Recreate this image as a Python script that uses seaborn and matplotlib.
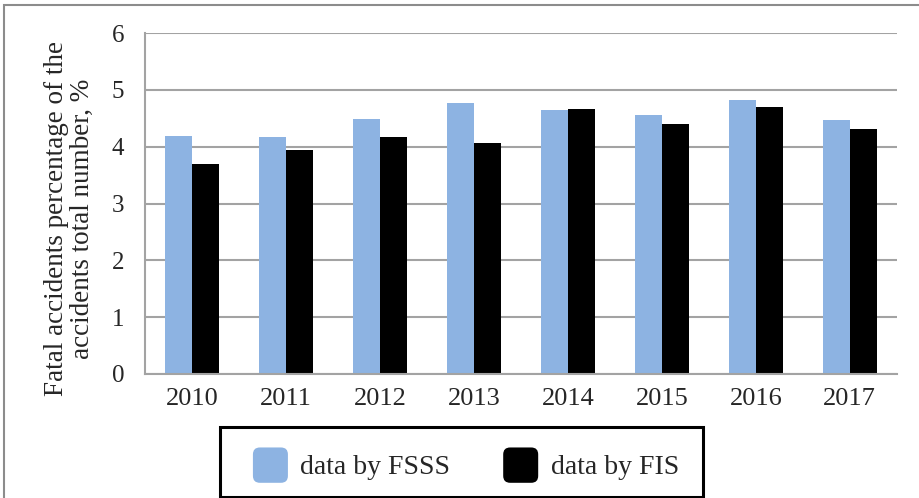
import pandas as pd
import numpy as np
import matplotlib.pyplot as plt
import seaborn as sns
from matplotlib.patches import Rectangle, FancyBboxPatch
from matplotlib.legend_handler import HandlerPatch

years = ["2010", "2011", "2012", "2013", "2014", "2015", "2016", "2017"]
fsss = [4.19, 4.17, 4.49, 4.76, 4.65, 4.56, 4.83, 4.47]
fis = [3.69, 3.94, 4.17, 4.06, 4.66, 4.40, 4.70, 4.31]
series = ["data by FSSS", "data by FIS"]
colors = ["#8db3e2", "#000000"]

df = pd.DataFrame({
    "year": years * 2,
    "value": fsss + fis,
    "source": [series[0]] * len(years) + [series[1]] * len(years),
})

sns.set_style("white")
plt.rcParams["font.family"] = ["Liberation Serif", "DejaVu Serif"]

GRID = "#a3a3a3"

fig = plt.figure(figsize=(9.19, 4.98), dpi=100)
ax = fig.add_axes([0.1578, 0.249, 0.818, 0.6847])

sns.barplot(data=df, x="year", y="value", hue="source", palette=colors,
            width=0.58, saturation=1, ax=ax, legend=False)
for p in ax.patches:
    p.set_linewidth(0)

ax.set_ylim(0, 6)
ax.set_xlim(-0.5, len(years) - 0.5)
ax.set_yticks(range(0, 7))
ax.yaxis.grid(True, color=GRID, linewidth=1.5)
ax.set_axisbelow(True)
for s in ["top", "right"]:
    ax.spines[s].set_visible(False)
for s in ["left", "bottom"]:
    ax.spines[s].set_color(GRID)
    ax.spines[s].set_linewidth(1.5)

# category boundary ticks below the axis, labels centred on the groups
ax.set_xticks(np.arange(-0.5, len(years), 1.0), minor=False)
ax.set_xticklabels([])
ax.set_xticks(range(len(years)), minor=True)
ax.set_xticklabels(years, minor=True)
ax.tick_params(axis="x", which="major", direction="out", length=7,
               color=GRID, width=1.5)
ax.tick_params(axis="x", which="minor", length=0, labelsize=19, pad=10)
ax.tick_params(axis="y", direction="out", length=7, color=GRID,
               width=1.5, labelsize=18, pad=8)
ax.set_xlabel("")
ax.set_ylabel("Fatal accidents percentage of the\naccidents total number, %",
              fontsize=19.5, linespacing=1.05, va="center")
ax.yaxis.set_label_coords(-0.101, 0.455)

# legend: frameless entries inside a hand-drawn box
def rounded(legend, orig_handle, xdescent, ydescent, width, height, fontsize):
    return FancyBboxPatch((-xdescent, -ydescent), width, height,
                          boxstyle="round,pad=0,rounding_size=5")

handles = [Rectangle((0, 0), 1, 1, facecolor=c, edgecolor="none") for c in colors]
leg = fig.legend(handles, series, loc="center",
                 bbox_to_anchor=(0.507, 0.066), ncol=2, frameon=False,
                 fontsize=20, handlelength=1.26, handleheight=1.58,
                 handletextpad=0.45, columnspacing=1.9, borderpad=0,
                 handler_map={Rectangle: HandlerPatch(patch_func=rounded)})

fig.patches.append(Rectangle((220 / 919, 1 / 498), 483 / 919, 70 / 498,
                             transform=fig.transFigure, fill=False,
                             edgecolor="#000000", linewidth=2.2))

# outer chart border
fig.patches.append(Rectangle((0.004, -0.01), 1.0, 1.0, transform=fig.transFigure,
                             fill=False, edgecolor="#8c8c8c", linewidth=1.5))

fig.savefig("out.png", dpi=100)
